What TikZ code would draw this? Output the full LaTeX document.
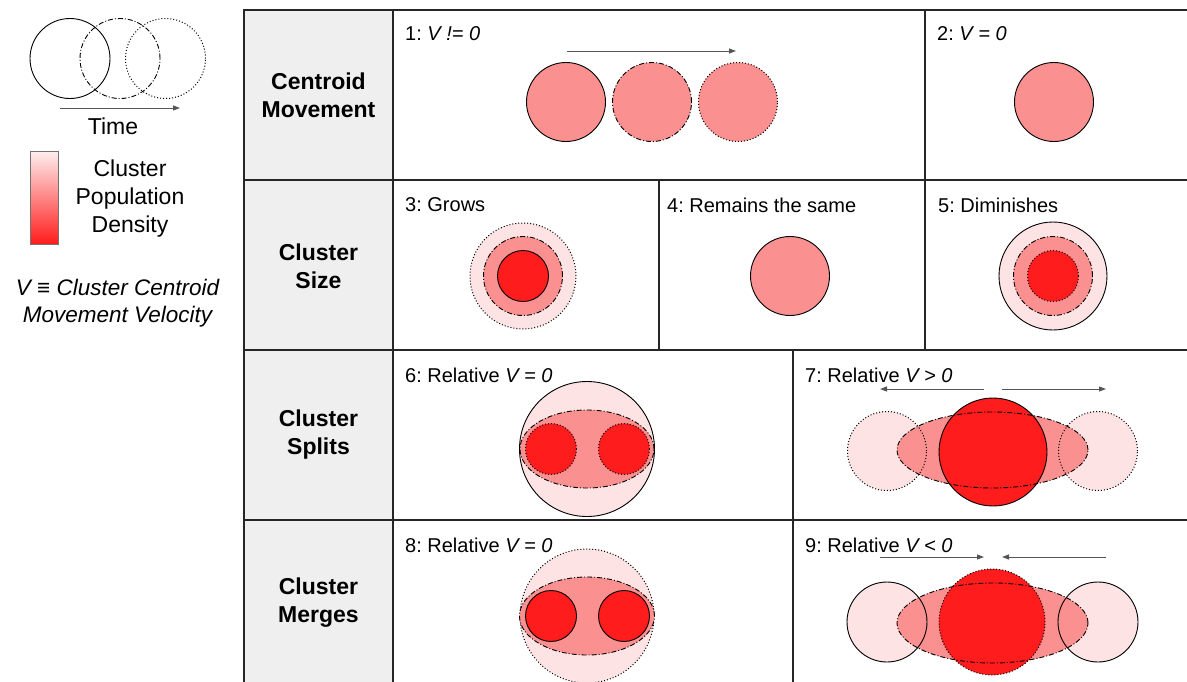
\documentclass[tikz,border=0pt]{standalone}
\usepackage{fontspec}
\setmainfont{Liberation Sans}
\usetikzlibrary{arrows.meta}
\definecolor{lp}{HTML}{FDE3E3}
\definecolor{mp}{HTML}{FA9090}
\definecolor{rd}{HTML}{FF1C1C}
\definecolor{hdr}{HTML}{EFEFEF}
\definecolor{arr}{HTML}{555555}
\frenchspacing
\begin{document}
\begin{tikzpicture}[x=1pt,y=-1pt,
 solidc/.style={draw=black,line width=0.9pt},
 dashdotc/.style={draw=black,line width=0.9pt,dash pattern=on 5pt off 2pt on 1pt off 2pt},
 dotc/.style={draw=black,line width=1pt,dash pattern=on 1pt off 2pt},
 gridline/.style={draw=black!85,line width=1.1pt},
 mv/.style={draw=arr,line width=1pt,-{Triangle[length=7pt,width=5pt]}},
 plabel/.style={anchor=west,inner sep=0pt,font=\fontsize{20}{24}\selectfont},
 hlabel/.style={align=center,inner sep=0pt,font=\bfseries\fontsize{23}{28}\selectfont},
 leglabel/.style={align=center,inner sep=0pt,font=\fontsize{23}{28}\selectfont},
]
\useasboundingbox (0,0) rectangle (1187,681);
\clip (0,0) rectangle (1187,681);
\fill[white] (0,0) rectangle (1187,681);

% ---------------- legend ----------------
\draw[solidc] (70,58.5) circle[radius=40pt];
\draw[dashdotc] (120,58.5) circle[radius=40pt];
\draw[dotc] (165.5,58.5) circle[radius=40pt];
\coordinate (t0) at (60,108);
\coordinate (t1) at (180,108);
\draw[mv] (t0) -- (t1);
\node[leglabel] (time) at (113,126) {Time};
\shade[top color=lp!60!white, bottom color=rd] (30,151) rectangle (58,244);
\draw[draw=black!55,line width=0.8pt] (30,151) rectangle (58,244);
\node[leglabel] (dens) at (130,199) {Cluster\\Population\\Density};
\node[align=center,inner sep=0pt,font=\itshape\fontsize{22.5}{27}\selectfont] (vdef) at (117.5,303) {V ≡ Cluster Centroid\\Movement Velocity};

% ---------------- table ----------------
\fill[hdr] (244,10) rectangle (393,700);
\draw[gridline] (244,700) -- (244,10) -- (1200,10);
\draw[gridline] (244,180) -- (1200,180);
\draw[gridline] (244,350) -- (1200,350);
\draw[gridline] (244,520) -- (1200,520);
\draw[gridline] (393,10) -- (393,700);
\draw[gridline] (925,10) -- (925,350);
\draw[gridline] (659,180) -- (659,350);
\draw[gridline] (793,350) -- (793,700);

\node[hlabel] (h1) at (318.5,95) {Centroid\\Movement};
\node[hlabel] (h2) at (318.5,266) {Cluster\\Size};
\node[hlabel] (h3) at (318.5,435) {Cluster\\Splits};
\node[hlabel] (h4) at (318.5,603) {Cluster\\Merges};

% ---------------- panel 1 ----------------
\node[plabel] (l1) at (405,34) {1: \textit{V != 0}};
\coordinate (a1s) at (567,51);
\coordinate (a1e) at (736,51);
\draw[mv] (a1s) -- (a1e);
\path[fill=mp,solidc] (566,102) circle[radius=39.5pt];
\path[fill=mp,dashdotc] (652,102) circle[radius=39.5pt];
\path[fill=mp,dotc] (738,102) circle[radius=39.5pt];

% ---------------- panel 2 ----------------
\node[plabel] (l2) at (937,34) {2: \textit{V = 0}};
\path[fill=mp,solidc] (1054,102) circle[radius=39.5pt];

% ---------------- panel 3 ----------------
\node[plabel] (l3) at (405,205) {3: Grows};
\path[fill=lp,dotc] (523,276) circle[radius=53pt];
\path[fill=mp,dashdotc] (523,276) circle[radius=39.5pt];
\path[fill=rd,solidc] (523,276) circle[radius=25.5pt];

% ---------------- panel 4 ----------------
\node[plabel] (l4) at (667,205) {4: Remains the same};
\path[fill=mp,solidc] (790,276) circle[radius=39.5pt];

% ---------------- panel 5 ----------------
\node[plabel] (l5) at (938,205) {5: Diminishes};
\path[fill=lp,solidc] (1053,276) circle[radius=54pt];
\path[fill=mp,dashdotc] (1053,276) circle[radius=39.5pt];
\path[fill=rd,dotc] (1053,276) circle[radius=25.5pt];

% ---------------- panel 6 ----------------
\node[plabel] (l6) at (405,375) {6: Relative \textit{V = 0}};
\path[fill=lp,solidc] (587,449) circle[radius=67.5pt];
\path[fill=mp,dashdotc] (587,449) ellipse[x radius=67pt,y radius=39pt];
\path[fill=rd,dotc] (551,449) circle[radius=25.5pt];
\path[fill=rd,dotc] (624,449) circle[radius=25.5pt];

% ---------------- panel 7 ----------------
\node[plabel] (l7) at (805,375) {7: Relative \textit{V > 0}};
\coordinate (a7ls) at (984,389);
\coordinate (a7le) at (880,389);
\coordinate (a7rs) at (1002,389);
\coordinate (a7re) at (1106,389);
\draw[mv] (a7ls) -- (a7le);
\draw[mv] (a7rs) -- (a7re);
\fill[lp] (887,451) circle[radius=39.5pt];
\fill[lp] (1098,451) circle[radius=39.5pt];
\fill[mp] (992.5,450) ellipse[x radius=95.5pt,y radius=38pt];
\draw[dotc] (887,451) circle[radius=39.5pt];
\draw[dotc] (1098,451) circle[radius=39.5pt];
\path[fill=rd,solidc] (993,452) circle[radius=54pt];
\draw[dashdotc] (992.5,450) ellipse[x radius=95.5pt,y radius=38pt];

% ---------------- panel 8 ----------------
\node[plabel] (l8) at (405,545) {8: Relative \textit{V = 0}};
\path[fill=lp,dotc] (587,616) circle[radius=67pt];
\path[fill=mp,dashdotc] (587,616) ellipse[x radius=67.5pt,y radius=39pt];
\path[fill=rd,solidc] (551,616) circle[radius=25.5pt];
\path[fill=rd,solidc] (624,616) circle[radius=25.5pt];

% ---------------- panel 9 ----------------
\node[plabel] (l9) at (805,545) {9: Relative \textit{V < 0}};
\coordinate (a9ls) at (880,557);
\coordinate (a9le) at (984,557);
\coordinate (a9rs) at (1106,557);
\coordinate (a9re) at (1002,557);
\draw[mv] (a9ls) -- (a9le);
\draw[mv] (a9rs) -- (a9re);
\fill[lp] (887,622) circle[radius=40pt];
\fill[lp] (1098,622) circle[radius=40pt];
\fill[mp] (992.5,623) ellipse[x radius=95.5pt,y radius=40pt];
\draw[solidc] (887,622) circle[radius=40pt];
\draw[solidc] (1098,622) circle[radius=40pt];
\path[fill=rd,dotc] (992,622) circle[radius=53pt];
\draw[dashdotc] (992.5,623) ellipse[x radius=95.5pt,y radius=40pt];
\end{tikzpicture}
\end{document}
